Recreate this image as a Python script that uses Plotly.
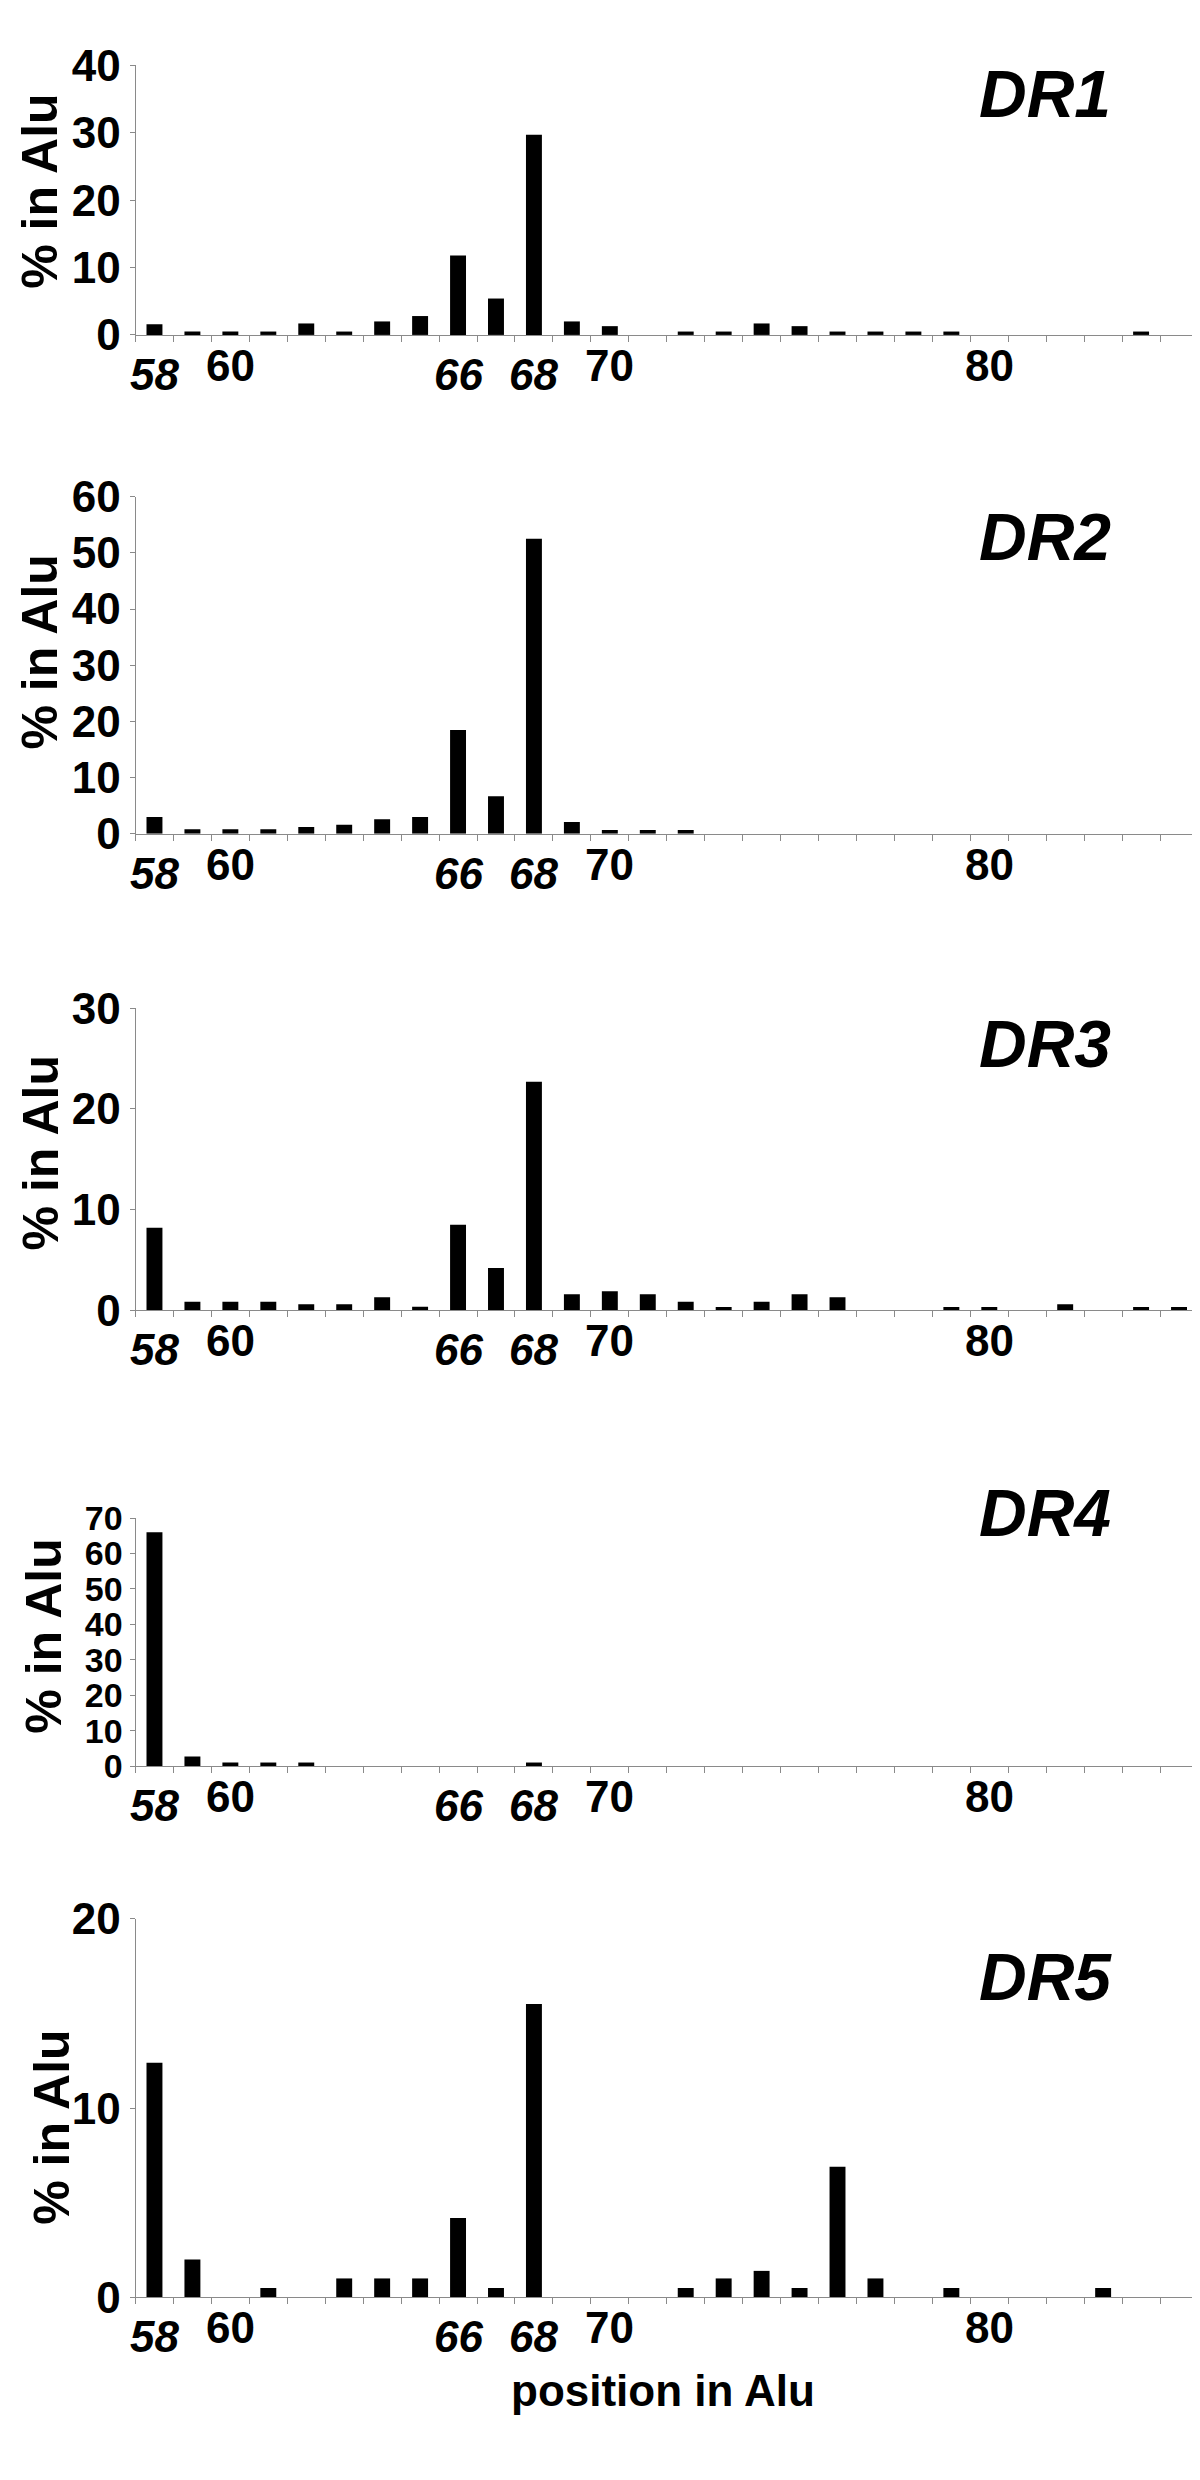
import plotly.graph_objects as go

# positions 58..85 in the Alu sequence
positions = list(range(58, 86))

dr1 = [1.6, 0.5, 0.5, 0.5, 1.7, 0.5, 2.0, 2.8, 11.8, 5.4, 29.7, 2.0, 1.3, 0,
       0.5, 0.5, 1.7, 1.3, 0.5, 0.5, 0.5, 0.5, 0, 0, 0, 0, 0.5, 0]
dr2 = [3.0, 0.8, 0.8, 0.8, 1.2, 1.6, 2.6, 3.0, 18.5, 6.7, 52.5, 2.1, 0.7, 0.7,
       0.7, 0, 0, 0, 0, 0, 0, 0, 0, 0, 0, 0, 0, 0]
dr3 = [8.2, 0.85, 0.85, 0.85, 0.6, 0.6, 1.3, 0.35, 8.5, 4.2, 22.7, 1.6, 1.9, 1.6,
       0.85, 0.33, 0.85, 1.6, 1.3, 0, 0, 0.33, 0.33, 0, 0.6, 0, 0.33, 0.33]
dr4 = [66.0, 2.7, 1.0, 1.0, 1.0, 0, 0, 0, 0, 0, 1.0, 0, 0, 0,
       0, 0, 0, 0, 0, 0, 0, 0, 0, 0, 0, 0, 0, 0]
dr5 = [12.4, 2.0, 0, 0.5, 0, 1.0, 1.0, 1.0, 4.2, 0.5, 15.5, 0, 0, 0,
       0.5, 1.0, 1.4, 0.5, 6.9, 1.0, 0, 0.5, 0, 0, 0, 0.5, 0, 0]

series = [dr1, dr2, dr3, dr4, dr5]
names = ["DR1", "DR2", "DR3", "DR4", "DR5"]
y_max = [40, 60, 30, 70, 20]

upright_ticks = [60, 70, 80]
italic_ticks = [58, 66, 68]

W, H = 1200, 2480
FONT = "Liberation Sans, Arial, sans-serif"
AXIS_GREY = "#8a8a8a"

# pixel layout of each panel: (top of y axis, zero line)
panel_px = [(33, 308), (473, 817), (995, 1303), (1515, 1768), (1924, 2310)]
label_y_px = [62, 514, 1031, 1510, 1983]
title_px = [(32, 162), (32, 632), (33, 1143), (36, 1636), (44, 2137)]
ytick_size = [44, 44, 44, 34, 44]
x_left, x_right = 127.5, 1190


def py(v):
    return 1 - v / H


fig = go.Figure()
annotations = []

for i, (vals, name, top) in enumerate(zip(series, names, y_max), 1):
    sfx = "" if i == 1 else str(i)
    fig.add_trace(go.Bar(
        x=positions, y=vals, width=0.42,
        marker=dict(color="black", line=dict(width=0)),
        xaxis="x" + sfx, yaxis="y" + sfx, showlegend=False,
    ))

    t_px, z_px = panel_px[i - 1]
    fig.update_layout(**{
        "xaxis" + sfx: dict(
            domain=[x_left / W, x_right / W], anchor="y" + sfx,
            range=[57.5, 85.5], tickvals=[p - 0.5 for p in positions] + [85.5],
            ticks="outside", ticklen=6, tickcolor=AXIS_GREY, tickwidth=1,
            showticklabels=False, showline=True, linecolor=AXIS_GREY,
            linewidth=1, showgrid=False, zeroline=False, fixedrange=True,
        ),
        "yaxis" + sfx: dict(
            domain=[py(z_px), py(t_px)], anchor="x" + sfx,
            range=[0, top], dtick=10, ticks="outside", ticklen=5,
            tickcolor=AXIS_GREY, tickwidth=1, showline=True,
            linecolor=AXIS_GREY, linewidth=1, showgrid=False, zeroline=False,
            tickfont=dict(family=FONT, size=ytick_size[i - 1], color="black",
                          weight="bold"),
        ),
    })

    # x tick labels: two rows, upright and italic
    for v in upright_ticks:
        annotations.append(dict(
            x=v, xref="x" + sfx, y=py(z_px + 31), yref="paper",
            text=str(v), showarrow=False, xanchor="center", yanchor="middle",
            font=dict(family=FONT, size=44, color="black", weight="bold"),
        ))
    for v in italic_ticks:
        annotations.append(dict(
            x=v, xref="x" + sfx, y=py(z_px + 40), yref="paper",
            text="<i>%d</i>" % v, showarrow=False, xanchor="center",
            yanchor="middle",
            font=dict(family=FONT, size=44, color="black", weight="bold"),
        ))

    # panel name
    annotations.append(dict(
        x=1037 / W, xref="paper", y=py(label_y_px[i - 1]), yref="paper",
        text="<i>%s</i>" % name, showarrow=False, xanchor="center",
        yanchor="middle",
        font=dict(family=FONT, size=66, color="black", weight="bold"),
    ))

    # y axis title
    tx, ty = title_px[i - 1]
    annotations.append(dict(
        x=tx / W, xref="paper", y=py(ty), yref="paper",
        text="% in Alu", textangle=-90, showarrow=False,
        xanchor="center", yanchor="middle",
        font=dict(family=FONT, size=50, color="black", weight="bold"),
    ))

annotations.append(dict(
    x=655 / W, xref="paper", y=py(2405), yref="paper",
    text="position in Alu", showarrow=False, xanchor="center",
    yanchor="middle",
    font=dict(family=FONT, size=44, color="black", weight="bold"),
))

fig.update_layout(
    width=W, height=H,
    margin=dict(l=0, r=0, t=0, b=0),
    paper_bgcolor="white", plot_bgcolor="white",
    bargap=0.5, annotations=annotations,
)

fig.write_html("out.html")
